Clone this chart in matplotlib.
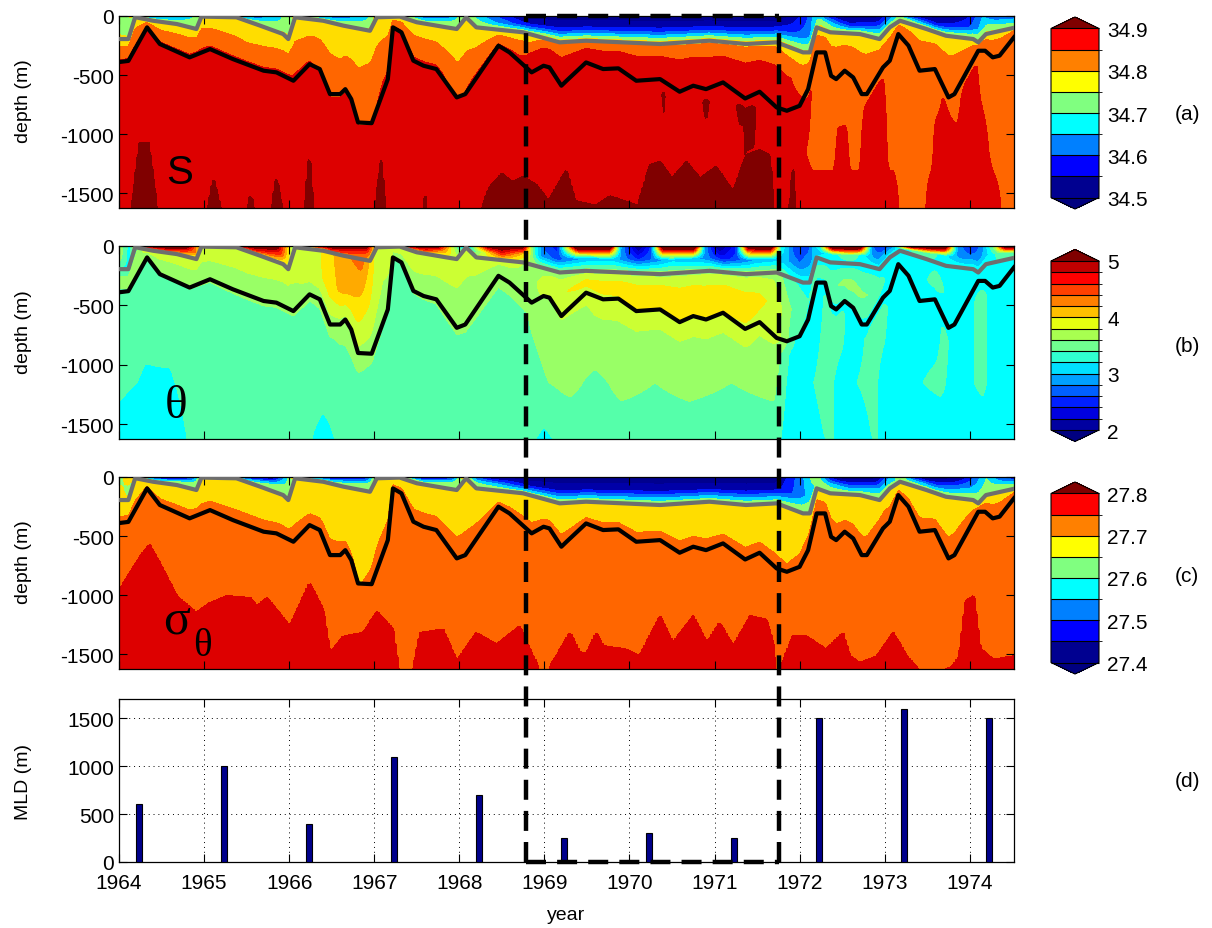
import numpy as np
import matplotlib
matplotlib.use('Agg')
import matplotlib.pyplot as plt
from matplotlib.colors import ListedColormap, BoundaryNorm
import matplotlib.cm as cm

plt.rcParams['font.family'] = ['Liberation Sans', 'DejaVu Sans']
plt.rcParams['axes.unicode_minus'] = False

# ---------------- data ----------------
# black line (depth, m)
BLACK_T = [1964.00,1964.11,1964.33,1964.48,1964.83,1965.07,1965.34,1965.70,1965.85,1966.05,1966.24,1966.36,
           1966.48,1966.60,1966.66,1966.73,1966.81,1966.97,1967.16,1967.22,1967.32,1967.46,1967.58,1967.73,
           1967.97,1968.07,1968.46,1968.59,1968.85,1968.99,1969.06,1969.20,1969.26,1969.49,1969.69,1969.87,
           1970.08,1970.36,1970.59,1970.75,1970.90,1971.10,1971.36,1971.53,1971.73,1971.85,1972.00,1972.10,
           1972.20,1972.30,1972.37,1972.43,1972.53,1972.63,1972.73,1972.79,1972.98,1973.06,1973.16,1973.28,
           1973.41,1973.59,1973.75,1973.82,1974.10,1974.18,1974.27,1974.35,1974.52]
BLACK_D = [-390,-380,-96,-237,-350,-280,-365,-463,-477,-548,-407,-449,
           -661,-661,-619,-703,-901,-907,-534,-96,-138,-378,-421,-449,
           -689,-661,-251,-308,-477,-421,-435,-590,-548,-393,-449,-443,
           -548,-534,-641,-590,-619,-562,-698,-641,-774,-802,-760,-619,
           -308,-308,-506,-534,-463,-520,-661,-661,-435,-378,-153,-251,
           -463,-449,-689,-661,-294,-294,-350,-336,-180]
# gray line (depth, m)
GRAY_T = [1964.00,1964.11,1964.19,1964.40,1964.68,1964.91,1964.97,1965.38,1965.66,1965.93,1965.99,1966.07,
          1966.40,1966.64,1966.95,1967.03,1967.30,1967.50,1967.85,1967.97,1968.08,1968.20,1968.75,1969.18,
          1969.49,1970.36,1970.94,1971.37,1971.73,1972.04,1972.12,1972.20,1972.36,1972.71,1972.94,1973.06,
          1973.18,1973.49,1973.72,1974.04,1974.10,1974.19,1974.52]
GRAY_D = [-195,-195,-10,-40,-68,-110,-5,-11,-82,-153,-195,-11,
          -40,-82,-125,-11,-5,-53,-96,-110,-11,-96,-138,-223,
          -209,-237,-209,-237,-223,-308,-308,-96,-138,-153,-195,-96,
          -40,-110,-167,-195,-223,-153,-100]

# mixed layer depth bars
MLD_YEAR = [1964.23,1965.23,1966.23,1967.23,1968.23,1969.23,1970.23,1971.23,1972.23,1973.23,1974.23]
MLD_VAL = [600,1000,400,1100,700,250,300,250,1500,1600,1500]
DASH_X = [1968.78, 1971.76]

# ---- salinity anchors ----
S0_T = [1964.0,1964.15,1964.3,1964.5,1964.7,1964.9,1965.0,1965.2,1965.4,1965.6,1965.85,1966.0,1966.1,1966.3,
        1966.6,1966.9,1967.05,1967.2,1967.35,1967.6,1967.9,1968.05,1968.15,1968.4,1968.6,1968.8,1971.7,1971.9,
        1972.1,1972.2,1972.3,1972.5,1972.9,1973.05,1973.15,1973.3,1973.5,1973.8,1974.0,1974.15,1974.3,1974.52]
S0_V = [34.72,34.76,34.65,34.62,34.65,34.70,34.78,34.72,34.65,34.60,34.66,34.74,34.77,34.66,
        34.60,34.66,34.80,34.82,34.72,34.60,34.62,34.76,34.70,34.60,34.55,34.47,34.45,34.50,
        34.60,34.70,34.60,34.47,34.47,34.60,34.70,34.55,34.47,34.47,34.55,34.65,34.60,34.62]
S1_T = [1964.0,1964.5,1964.9,1965.2,1965.5,1965.9,1966.1,1966.5,1966.9,1967.2,1967.6,1967.95,1968.1,1968.4,
        1968.8,1969.2,1971.7,1972.1,1972.25,1972.6,1972.95,1973.2,1973.6,1974.0,1974.2,1974.52]
S1_V = [34.74,34.68,34.72,34.75,34.68,34.72,34.76,34.67,34.72,34.82,34.67,34.72,34.75,34.66,
        34.56,34.56,34.57,34.62,34.74,34.56,34.62,34.74,34.56,34.60,34.70,34.68]
S2_T = [1964.0,1968.8,1969.0,1971.7,1972.0,1974.52]
S2_V = [34.757,34.757,34.79,34.79,34.765,34.765]
S3_T = [1964.0,1964.5,1965.0,1965.5,1965.9,1966.3,1966.6,1966.85,1967.1,1967.3,1967.7,1968.0,1968.3,1968.7,
        1969.0,1971.7,1971.9,1972.1,1974.52]
S3_V = [34.82,34.815,34.82,34.80,34.81,34.815,34.80,34.81,34.83,34.82,34.815,34.80,34.815,34.83,
        34.875,34.875,34.85,34.82,34.82]
S4_T = [1964.0,1966.2,1966.4,1966.7,1966.95,1967.1,1967.8,1967.95,1968.15,1968.6,1968.9,1971.8,1972.0,1972.1,1974.52]
S4_V = [34.858,34.858,34.845,34.84,34.845,34.858,34.858,34.845,34.858,34.86,34.87,34.87,34.86,34.835,34.835]
S5_T = [1964.0,1970.35,1970.4,1970.45,1970.8,1970.9,1971.0,1971.2,1971.3,1971.45,1971.55,1971.9,
        1972.1,1972.2,1972.7,1972.8,1972.95,1973.05,1973.6,1973.7,1973.85,1973.95,1974.05,1974.15,1974.52]
S5_V = [34.875,34.875,34.915,34.875,34.875,34.915,34.875,34.88,34.915,34.91,34.875,34.875,
        34.86,34.835,34.835,34.86,34.86,34.835,34.835,34.855,34.84,34.86,34.86,34.835,34.835]
S6_T = [1964.0,1971.85,1972.0,1972.15,1972.4,1972.45,1972.55,1972.6,1972.7,1972.75,1973.0,1973.05,1973.55,
        1973.6,1974.15,1974.3,1974.52]
S6_V = [34.875,34.875,34.86,34.84,34.84,34.86,34.86,34.84,34.84,34.865,34.865,34.84,34.84,
        34.865,34.865,34.835,34.835]
SB_T = [1964.0,1971.85,1972.0,1973.1,1973.2,1973.45,1973.55,1974.3,1974.4,1974.52]
SB_V = [34.88,34.88,34.87,34.87,34.84,34.84,34.87,34.87,34.84,34.84]
# top of the S > 34.9 bottom water (depth, m; -1800 = absent)
DR_T = [1964.0,1964.12,1964.24,1964.35,1964.48,1965.0,1965.11,1965.26,1965.45,1965.55,1965.63,1965.76,1965.85,
        1965.97,1966.16,1966.24,1966.3,1966.98,1967.08,1967.16,1967.53,1967.6,1967.66,1968.18,1968.35,1968.5,
        1968.62,1968.75,1968.9,1969.05,1969.26,1969.36,1969.6,1969.77,1970.1,1970.24,1970.36,1970.5,1970.67,
        1970.83,1971.02,1971.22,1971.37,1971.53,1971.65,1971.72,1971.86,1971.92,1971.98,1972.02,1974.52]
DR_D = [-1800,-1800,-1070,-1070,-1800,-1800,-1375,-1800,-1800,-1500,-1800,-1800,-1360,
        -1800,-1800,-1130,-1800,-1800,-1215,-1800,-1800,-1485,-1800,-1800,-1450,-1330,
        -1400,-1356,-1420,-1560,-1297,-1560,-1600,-1520,-1600,-1257,-1229,-1370,-1229,
        -1370,-1271,-1483,-1172,-1130,-1172,-1800,-1800,-1250,-1800,-1800,-1800]

# ---- potential temperature anchors ----
T0_T = [1964.0,1964.12,1964.22,1964.35,1964.8,1964.95,1965.05,1965.2,1965.35,1965.85,1966.0,1966.1,1966.2,
        1966.3,1966.5,1966.9,1967.0,1967.1,1967.28,1967.4,1967.75,1967.9,1968.0,1968.1,1968.2,1968.35,1968.75,
        1968.85,1969.0,1969.15,1969.25,1969.4,1969.75,1969.9,1970.1,1970.25,1970.4,1970.75,1970.88,1971.05,
        1971.25,1971.4,1971.65,1971.78,1971.95,1972.1,1972.25,1972.4,1972.7,1972.85,1972.98,1973.1,1973.3,
        1973.7,1973.85,1974.0,1974.15,1974.3,1974.42,1974.52]
T0_V = [3.8,3.3,4.2,5.3,5.3,4.0,3.7,3.9,5.2,5.3,4.0,3.4,3.3,
        5.0,5.3,5.3,4.0,3.8,4.2,5.3,5.2,4.0,3.3,3.1,4.0,5.3,5.3,
        3.6,2.7,2.5,3.8,5.8,5.8,3.0,1.9,2.6,5.7,5.8,3.0,1.9,
        2.5,5.5,5.7,3.4,2.6,2.7,3.5,5.8,5.8,2.8,2.5,2.9,5.5,
        5.8,3.0,2.5,2.9,3.8,5.5,5.6]
T1_T = [1964.0,1964.12,1964.3,1964.6,1964.9,1965.05,1965.3,1965.6,1965.9,1966.05,1966.2,1966.5,1966.9,
        1967.05,1967.3,1967.6,1967.85,1968.05,1968.15,1968.5,1968.8,1968.95,1969.15,1969.5,1969.8,1970.1,
        1970.5,1970.9,1971.1,1971.5,1971.8,1972.0,1972.15,1972.3,1972.6,1972.9,1973.2,1973.5,1973.9,1974.1,
        1974.3,1974.52]
T1_V = [3.7,3.3,4.4,4.9,4.4,3.8,3.9,4.8,4.6,3.6,3.4,4.8,4.6,
        4.0,4.0,4.7,4.2,3.4,3.3,4.8,4.0,3.0,2.7,3.0,3.1,2.6,
        3.1,2.9,2.5,3.0,3.1,2.8,3.0,3.2,3.6,2.9,3.3,3.6,2.9,2.9,
        3.4,3.6]
T2_T = [1964.0,1964.15,1964.3,1966.3,1966.6,1966.85,1967.0,1967.3,1968.6,1968.9,1971.7,1971.9,1972.2,1974.52]
T2_V = [3.4,3.3,3.9,3.9,4.3,4.5,4.0,3.9,3.9,3.7,3.75,3.4,3.3,3.4]
T3_T = [1964.0,1964.5,1965.0,1965.5,1966.0,1966.4,1966.65,1966.85,1967.1,1967.5,1968.0,1968.5,1968.85,1969.1,
        1969.6,1970.0,1971.0,1971.4,1971.7,1971.9,1972.1,1972.3,1972.6,1972.8,1973.0,1973.3,1973.6,1973.9,1974.52]
T3_V = [3.72,3.75,3.78,3.8,3.78,4.0,4.3,4.1,3.78,3.8,3.78,3.72,3.75,3.95,
        4.1,4.16,4.16,4.12,3.95,3.6,3.4,3.5,3.7,3.6,3.4,3.3,3.45,3.3,3.3]
T4_T = [1964.0,1964.6,1965.5,1966.3,1966.8,1967.2,1968.0,1968.6,1969.0,1969.5,1970.0,1971.2,1971.5,1971.75,
        1971.95,1972.2,1974.52]
T4_V = [3.55,3.6,3.65,3.65,3.75,3.6,3.65,3.7,3.8,3.9,3.98,3.98,3.95,3.85,3.4,3.35,3.3]
T5_T = [1964.0,1966.0,1966.8,1967.1,1968.0,1968.8,1969.2,1969.6,1971.4,1971.7,1971.9,1972.15,1972.35,1972.5,
        1972.6,1972.85,1973.0,1973.1,1973.6,1973.7,1973.85,1974.15,1974.3,1974.52]
T5_V = [3.5,3.5,3.65,3.5,3.55,3.6,3.7,3.82,3.82,3.75,3.35,3.3,3.45,3.45,
        3.3,3.45,3.45,3.3,3.3,3.45,3.3,3.45,3.3,3.3]
T6_T = [1964.0,1964.3,1964.6,1964.8,1965.0,1968.8,1969.3,1969.6,1969.9,1970.3,1970.7,1971.2,1971.7,1971.9,
        1972.3,1972.5,1972.85,1973.05,1973.65,1973.85,1974.15,1974.3,1974.52]
T6_V = [3.45,3.38,3.38,3.45,3.5,3.55,3.65,3.55,3.65,3.6,3.65,3.6,3.65,3.3,
        3.45,3.35,3.45,3.3,3.45,3.3,3.45,3.3,3.25]
T7_T = [1964.0,1964.2,1964.6,1964.9,1966.2,1966.4,1966.6,1968.8,1969.0,1969.2,1970.0,1971.7,1971.9,1972.3,
        1972.45,1972.6,1972.85,1973.0,1973.15,1973.65,1973.8,1974.0,1974.52]
T7_V = [3.3,3.25,3.3,3.45,3.45,3.3,3.45,3.45,3.35,3.45,3.5,3.5,3.25,3.4,
        3.4,3.25,3.4,3.4,3.25,3.25,3.4,3.25,3.25]

# ---- sigma-theta anchors ----
G0_T = [1964.0,1964.15,1964.3,1964.5,1964.85,1964.97,1965.2,1965.4,1965.8,1965.95,1966.05,1966.25,1966.5,
        1966.9,1967.05,1967.25,1967.4,1967.6,1967.9,1968.05,1968.2,1968.4,1968.8,1971.7,1971.85,1972.05,
        1972.2,1972.35,1972.5,1972.9,1973.05,1973.2,1973.35,1973.5,1973.85,1974.05,1974.2,1974.35,1974.52]
G0_V = [27.62,27.70,27.45,27.35,27.45,27.70,27.60,27.40,27.38,27.55,27.70,27.50,27.38,
        27.45,27.72,27.70,27.45,27.37,27.45,27.70,27.50,27.38,27.36,27.35,27.45,27.55,
        27.65,27.45,27.35,27.37,27.55,27.65,27.45,27.35,27.38,27.50,27.60,27.50,27.45]
G1_T = [1964.0,1964.5,1964.9,1965.5,1965.95,1966.5,1966.95,1967.2,1967.6,1968.0,1968.4,1968.8,1969.2,
        1971.7,1972.0,1972.25,1972.6,1972.95,1973.2,1973.6,1974.0,1974.2,1974.52]
G1_V = [27.66,27.56,27.62,27.56,27.62,27.56,27.62,27.70,27.56,27.64,27.56,27.45,27.44,
        27.45,27.52,27.62,27.50,27.55,27.62,27.50,27.55,27.62,27.58]
G2_T = [1964.0, 1974.52]
G2_V = [27.655, 27.655]
G3_T = [1964.0,1966.4,1966.7,1966.85,1967.0,1967.2,1971.7,1972.0,1972.2,1972.5,1972.8,1973.0,1973.3,
        1973.6,1974.0,1974.52]
G3_V = [27.685,27.685,27.67,27.665,27.68,27.69,27.68,27.685,27.705,27.69,27.69,27.70,27.69,
        27.685,27.70,27.71]
G4_T = [1964.0,1966.6,1966.85,1967.05,1971.7,1971.85,1972.05,1974.52]
G4_V = [27.72,27.715,27.70,27.72,27.715,27.705,27.715,27.725]
G5_T = [1964.0, 1974.52]
G5_V = [27.73, 27.73]
# top of the sigma > 27.75 bottom water (depth, m)
RT_T = [1964.01,1964.25,1964.36,1964.52,1964.68,1964.91,1965.07,1965.27,1965.54,1965.62,1965.74,1966.01,
        1966.24,1966.40,1966.48,1966.64,1966.87,1967.03,1967.22,1967.30,1967.44,1967.54,1967.81,1967.97,
        1968.20,1968.44,1968.71,1968.83,1968.99,1969.30,1969.42,1969.50,1969.61,1969.69,1969.97,1970.12,
        1970.36,1970.51,1970.75,1970.91,1971.06,1971.22,1971.42,1971.61,1971.69,1971.73,1971.92,1972.08,
        1972.31,1972.51,1972.59,1972.71,1972.91,1973.10,1973.26,1973.49,1973.80,1973.88,1973.95,1974.05,
        1974.12,1974.28,1974.52]
RT_D = [-949,-667,-568,-780,-1006,-1147,-1062,-1006,-1020,-1090,-1020,-1260,
        -893,-1119,-1486,-1345,-1316,-1133,-1288,-1700,-1700,-1316,-1288,-1557,
        -1316,-1415,-1260,-1458,-1700,-1316,-1486,-1486,-1316,-1429,-1458,-1514,
        -1175,-1401,-1175,-1401,-1232,-1429,-1175,-1203,-1401,-1700,-1345,-1345,
        -1458,-1316,-1514,-1571,-1514,-1316,-1514,-1700,-1600,-1514,-1050,-1000,
        -1450,-1543,-1514]

S_LEVELS = [34.5,34.55,34.6,34.65,34.7,34.75,34.8,34.85,34.9]
T_LEVELS = [2.0,2.2,2.4,2.6,2.8,3.0,3.2,3.4,3.6,3.8,4.0,4.2,4.4,4.6,4.8,5.0]
G_LEVELS = [27.4,27.45,27.5,27.55,27.6,27.65,27.7,27.75,27.8]

# ---------------- colours ----------------
SG_PLOT = ['#0000A8', '#0018FF', '#0070FF', '#00D8FF', '#90FF70', '#FFDD00', '#FF6600', '#DD0000']
SG_UNDER, SG_OVER = '#00008F', '#800000'
T_PLOT = ['#0000AA', '#0000DD', '#0011FF', '#0044FF', '#0088FF', '#00CCFF', '#00FFFF', '#55FFAA',
          '#99FF66', '#CCFF33', '#FFE600', '#FFAA00', '#FF6600', '#FF2200', '#DD0000']
T_UNDER, T_OVER = '#000088', '#800000'
SG_CB = ['#000090', '#0000FF', '#0080FF', '#00FFFF', '#80FF80', '#FFFF00', '#FF8000', '#FF0000']
T_CB = ['#0000A0', '#0000E0', '#0020FF', '#0060FF', '#00A0FF', '#00E0FF', '#30FFD0', '#70FF90',
        '#A8FF50', '#E6FF10', '#FFC000', '#FF8000', '#FF4000', '#FF0000', '#C00000']

# ---------------- build gridded sections ----------------
tg = np.linspace(1964.0, 1974.52, 520)
zg = np.linspace(-1625, 0, 300)
gray = np.interp(tg, GRAY_T, GRAY_D)
black = np.interp(tg, BLACK_T, BLACK_D)
mid = 0.5 * (gray + black)

def s(t, v):
    return np.interp(tg, t, v)

def build(anchors):
    F = np.empty((len(zg), len(tg)))
    for j in range(len(tg)):
        ds, vs = [], []
        for d, v in anchors:
            if np.isfinite(d[j]):
                ds.append(d[j]); vs.append(v[j])
        ds = np.array(ds); vs = np.array(vs)
        o = np.argsort(ds, kind='stable')
        F[:, j] = np.interp(zg, ds[o], vs[o])
    return F

zero = np.zeros_like(tg)
ones = np.ones_like(tg)

dr = s(DR_T, DR_D)
s6_depth = np.where(dr > -1200, np.nan, -1150.0)
s_bot = np.where(dr > -1625, 34.93, s(SB_T, SB_V))
S = build([(zero, s(S0_T, S0_V)), (0.5 * gray, s(S1_T, S1_V)), (gray, s(S2_T, S2_V)),
           (mid, s(S3_T, S3_V)), (black, s(S4_T, S4_V)), (black - 120, s(S5_T, S5_V)),
           (s6_depth, s(S6_T, S6_V)), (dr, 34.899 * ones), (dr - 25, 34.925 * ones),
           (-1625 * ones, s_bot)])

TH = build([(zero, s(T0_T, T0_V)), (0.5 * gray, s(T1_T, T1_V)), (gray, s(T2_T, T2_V)),
            (mid, s(T3_T, T3_V)), (black, s(T4_T, T4_V)), (black - 120, s(T5_T, T5_V)),
            (-1150 * ones, s(T6_T, T6_V)), (-1625 * ones, s(T7_T, T7_V))])

rt = s(RT_T, RT_D)
g_bot = np.where(rt > -1625, 27.77, 27.735)
SG = build([(zero, s(G0_T, G0_V)), (0.5 * gray, s(G1_T, G1_V)), (gray, s(G2_T, G2_V)),
            (mid, s(G3_T, G3_V)), (black, s(G4_T, G4_V)), (black - 120, s(G5_T, G5_V)),
            (rt, 27.75 * ones), (rt - 40, 27.765 * ones), (-1625 * ones, g_bot)])

# ---------------- figure ----------------
W, H = 1212, 929
fig = plt.figure(figsize=(W / 100, H / 100), dpi=100)

def rect(x0, y0, x1, y1):
    return [x0 / W, 1 - y1 / H, (x1 - x0) / W, (y1 - y0) / H]

FS = 15
LFS = 14
XL = (1964.0, 1974.52)
LABX = (32 - 119) / 895.0

def style(ax):
    ax.set_xlim(*XL)
    ax.set_xticks(range(1964, 1975))
    ax.tick_params(direction='in', top=True, right=True, length=6, width=0.8, labelsize=FS)
    for sp in ax.spines.values():
        sp.set_linewidth(0.9)

def section(r, F, levels, colors, under, over, label_func):
    ax = fig.add_axes(rect(*r))
    cmap = ListedColormap(colors)
    cmap.set_under(under); cmap.set_over(over)
    norm = BoundaryNorm(levels, cmap.N)
    ax.contourf(tg, zg, F, levels=levels, cmap=cmap, norm=norm, extend='both')
    ax.plot(GRAY_T, GRAY_D, color='#6e6e6e', lw=3.0, zorder=4)
    ax.plot(BLACK_T, BLACK_D, color='black', lw=3.0, zorder=5)
    style(ax)
    ax.set_ylim(-1625, 0)
    ax.set_yticks([-1500, -1000, -500, 0])
    ax.set_xticklabels([])
    ax.set_ylabel('depth (m)', fontsize=LFS)
    ax.yaxis.set_label_coords(LABX, 0.56)
    label_func(ax)
    return ax

def cbar(r, colors, under, over, levels, ticks, labels):
    cmap = ListedColormap(colors)
    cmap.set_under(under); cmap.set_over(over)
    norm = BoundaryNorm(levels, cmap.N)
    sm = cm.ScalarMappable(norm=norm, cmap=cmap)
    cax = fig.add_axes(rect(*r))
    cb = fig.colorbar(sm, cax=cax, extend='both', extendfrac=0.068, drawedges=True, ticks=ticks)
    cb.set_ticklabels(labels)
    cb.outline.set_linewidth(0.8)
    cb.dividers.set_linewidth(0.8)
    cax.tick_params(length=0, labelsize=FS, pad=6)
    return cb

def lab_s(ax):
    ax.text(0.068, 0.19, 'S', transform=ax.transAxes, fontsize=29,
            ha='center', va='center', zorder=6)

def lab_t(ax):
    ax.text(0.064, 0.17, '\u03b8', transform=ax.transAxes, fontsize=34,
            family='Liberation Serif', ha='center', va='center', zorder=6)

def lab_g(ax):
    ax.text(0.064, 0.255, '\u03c3', transform=ax.transAxes, fontsize=36,
            family='Liberation Serif', ha='center', va='center', zorder=6)
    ax.text(0.093, 0.12, '\u03b8', transform=ax.transAxes, fontsize=28,
            family='Liberation Serif', ha='center', va='center', zorder=6)

section((119, 17, 1014, 209), S, S_LEVELS, SG_PLOT, SG_UNDER, SG_OVER, lab_s)
section((119, 247, 1014, 440), TH, T_LEVELS, T_PLOT, T_UNDER, T_OVER, lab_t)
section((119, 478, 1014, 670), SG, G_LEVELS, SG_PLOT, SG_UNDER, SG_OVER, lab_g)

cbar((1051, 18, 1099, 210), SG_CB, '#000080', '#800000', S_LEVELS,
     [34.5, 34.6, 34.7, 34.8, 34.9], ['34.5', '34.6', '34.7', '34.8', '34.9'])
cbar((1051, 250.5, 1099, 442.5), T_CB, '#000080', '#800000', T_LEVELS,
     [2, 3, 4, 5], ['2', '3', '4', '5'])
cbar((1051, 483, 1099, 675), SG_CB, '#000080', '#800000', G_LEVELS,
     [27.4, 27.5, 27.6, 27.7, 27.8], ['27.4', '27.5', '27.6', '27.7', '27.8'])

# MLD bars
axd = fig.add_axes(rect(119, 700, 1014, 863))
axd.bar(MLD_YEAR, MLD_VAL, width=0.07, color='#00008B', edgecolor='black', linewidth=0.8, zorder=3)
style(axd)
axd.tick_params(axis='x', pad=8)
axd.set_ylim(0, 1700)
axd.set_yticks([0, 500, 1000, 1500])
axd.grid(True, linestyle=(0, (1, 4)), color='black', linewidth=0.7)
axd.set_ylabel('MLD (m)', fontsize=LFS)
axd.yaxis.set_label_coords(LABX, 0.5)
axd.set_xlabel('year', fontsize=LFS, labelpad=10)

# panel tags
for tag, yc in [('(a)', 115), ('(b)', 347), ('(c)', 577), ('(d)', 782)]:
    fig.text(1187 / W, 1 - yc / H, tag, fontsize=FS, ha='center', va='center')

# dashed markers spanning all panels
ov = fig.add_axes(rect(119, 17, 1014, 863))
ov.set_xlim(*XL); ov.set_ylim(0, 1)
ov.axis('off')
ov.patch.set_alpha(0)
dash = dict(color='black', lw=3.2, dashes=(4.5, 2.5), clip_on=False, zorder=10)
for x in DASH_X:
    ov.plot([x, x], [0, 1], **dash)
ov.plot(DASH_X, [1, 1], **dash)
ov.plot(DASH_X, [0, 0], **dash)

fig.savefig('out.png', dpi=100)
